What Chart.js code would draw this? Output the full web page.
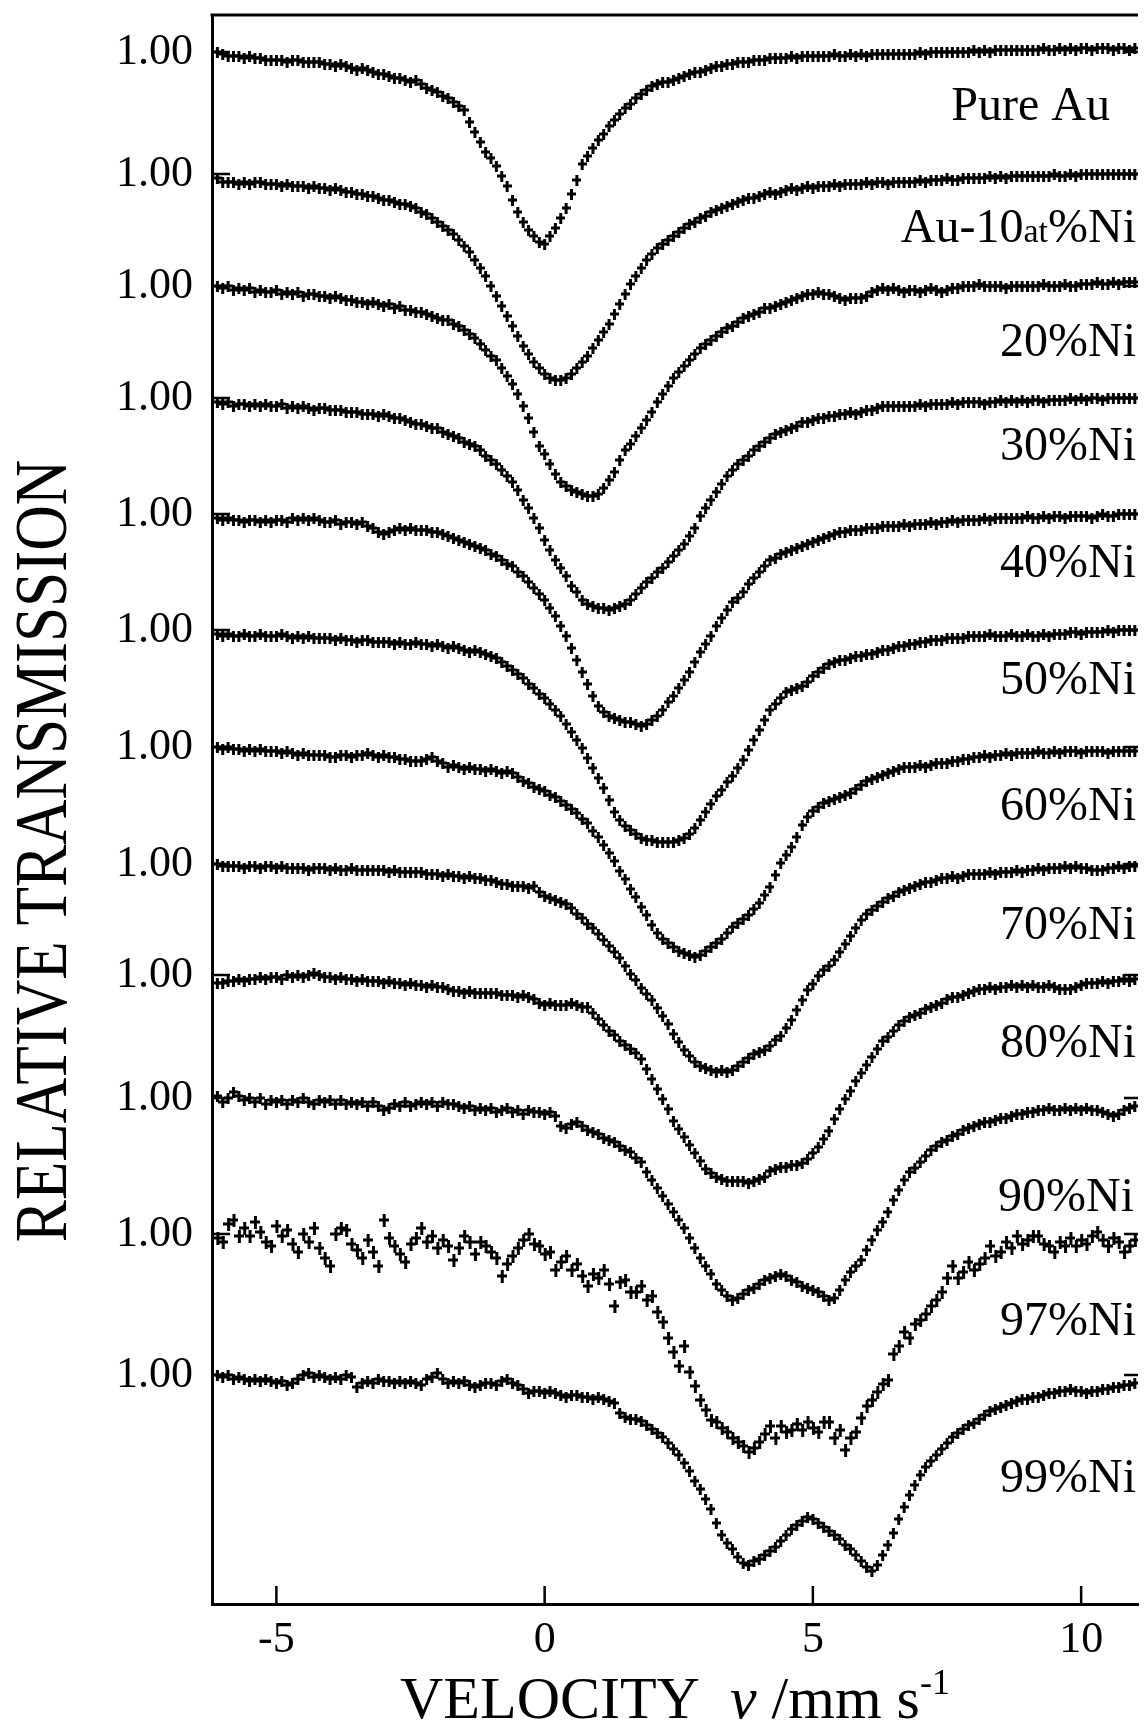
<!DOCTYPE html>
<html>
<head>
<meta charset="utf-8">
<title>Mossbauer spectra Au-Ni</title>
<script src="https://cdn.jsdelivr.net/npm/chart.js@4.4.1/dist/chart.umd.min.js"></script>
<style>
  html, body { margin: 0; padding: 0; background: #fff; }
  #wrap { width: 1144px; height: 1727px; }
</style>
</head>
<body>
<div id="wrap"><canvas id="chart" width="1144" height="1727"></canvas></div>
<script>
// velocity channels (mm/s)
const velocity = [
  -6.1,-6.0,-5.9,-5.8,-5.7,-5.6,-5.5,-5.4,-5.3,-5.2,
  -5.1,-5.0,-4.9,-4.8,-4.7,-4.6,-4.5,-4.4,-4.3,-4.2,
  -4.1,-4.0,-3.9,-3.8,-3.7,-3.6,-3.5,-3.4,-3.3,-3.2,
  -3.1,-3.0,-2.9,-2.8,-2.7,-2.6,-2.5,-2.4,-2.3,-2.2,
  -2.1,-2.0,-1.9,-1.8,-1.7,-1.6,-1.5,-1.4,-1.3,-1.2,
  -1.1,-1.0,-0.9,-0.8,-0.7,-0.6,-0.5,-0.4,-0.3,-0.2,
  -0.1,0.0,0.1,0.2,0.3,0.4,0.5,0.6,0.7,0.8,
  0.9,1.0,1.1,1.2,1.3,1.4,1.5,1.6,1.7,1.8,
  1.9,2.0,2.1,2.2,2.3,2.4,2.5,2.6,2.7,2.8,
  2.9,3.0,3.1,3.2,3.3,3.4,3.5,3.6,3.7,3.8,
  3.9,4.0,4.1,4.2,4.3,4.4,4.5,4.6,4.7,4.8,
  4.9,5.0,5.1,5.2,5.3,5.4,5.5,5.6,5.7,5.8,
  5.9,6.0,6.1,6.2,6.3,6.4,6.5,6.6,6.7,6.8,
  6.9,7.0,7.1,7.2,7.3,7.4,7.5,7.6,7.7,7.8,
  7.9,8.0,8.1,8.2,8.3,8.4,8.5,8.6,8.7,8.8,
  8.9,9.0,9.1,9.2,9.3,9.4,9.5,9.6,9.7,9.8,
  9.9,10.0,10.1,10.2,10.3,10.4,10.5,10.6,10.7,10.8,
  10.9,11.0
];

// relative transmission (%) for each sample
const pureAu = [
  100.0,99.9,99.8,99.8,99.8,99.7,99.8,99.7,99.7,99.6,
  99.6,99.6,99.6,99.5,99.6,99.6,99.5,99.5,99.5,99.5,
  99.4,99.4,99.3,99.4,99.3,99.2,99.1,99.2,99.1,99.0,
  98.9,98.9,98.8,98.7,98.7,98.6,98.5,98.6,98.4,98.2,
  98.1,98.0,97.8,97.7,97.5,97.3,97.1,96.5,96.0,95.5,
  95.0,94.7,94.3,93.8,93.3,92.6,92.0,91.5,91.1,90.8,
  90.5,90.4,90.8,91.2,91.7,92.2,92.9,93.6,94.4,94.8,
  95.2,95.6,95.9,96.3,96.6,96.9,97.2,97.4,97.7,97.9,
  98.1,98.3,98.4,98.5,98.5,98.6,98.7,98.8,98.9,99.0,
  99.0,99.1,99.2,99.3,99.3,99.4,99.4,99.5,99.5,99.5,
  99.6,99.6,99.6,99.7,99.7,99.7,99.7,99.8,99.7,99.8,
  99.8,99.8,99.8,99.8,99.8,99.9,99.8,99.8,99.9,99.8,
  99.9,99.8,99.9,99.9,99.9,99.9,99.9,99.9,99.9,99.9,
  99.9,100.0,99.9,100.0,100.0,100.0,100.0,100.0,100.0,100.0,
  100.0,100.1,100.0,100.1,100.0,100.1,100.1,100.1,100.1,100.1,
  100.1,100.1,100.1,100.1,100.2,100.1,100.1,100.2,100.1,100.2,
  100.1,100.2,100.2,100.1,100.2,100.2,100.2,100.1,100.2,100.2,
  100.1,100.2
];
const ni10 = [
  99.8,99.6,99.6,99.6,99.5,99.6,99.5,99.6,99.6,99.5,
  99.5,99.5,99.4,99.5,99.4,99.4,99.4,99.3,99.4,99.3,
  99.3,99.2,99.3,99.2,99.1,99.1,99.0,99.0,98.9,98.9,
  98.8,98.7,98.7,98.6,98.5,98.5,98.4,98.3,98.1,98.0,
  97.8,97.6,97.4,97.2,97.0,96.7,96.4,96.1,95.7,95.3,
  94.9,94.4,93.9,93.4,92.9,92.4,91.9,91.4,91.0,90.6,
  90.3,90.0,89.8,89.7,89.7,89.8,90.0,90.3,90.6,90.9,
  91.3,91.7,92.1,92.5,93.0,93.5,94.0,94.5,94.9,95.3,
  95.7,96.0,96.3,96.5,96.7,96.9,97.1,97.3,97.5,97.6,
  97.8,97.9,98.1,98.2,98.3,98.4,98.5,98.6,98.7,98.8,
  98.8,98.9,99.0,99.1,99.0,99.1,99.2,99.3,99.2,99.3,
  99.4,99.3,99.4,99.4,99.4,99.5,99.4,99.5,99.5,99.5,
  99.5,99.6,99.5,99.6,99.6,99.5,99.6,99.6,99.6,99.6,
  99.6,99.7,99.6,99.7,99.7,99.7,99.8,99.7,99.7,99.8,
  99.8,99.8,99.8,99.8,99.9,99.8,99.9,99.8,99.9,99.9,
  99.9,99.9,99.9,99.9,99.9,99.9,100.0,99.9,99.9,100.0,
  99.9,100.0,100.0,100.0,100.0,100.0,100.0,100.0,100.0,100.0,
  100.0,100.0
];
const ni20 = [
  100.0,99.9,100.0,99.8,99.9,99.8,99.9,99.7,99.8,99.7,
  99.7,99.8,99.6,99.7,99.6,99.7,99.5,99.6,99.6,99.5,
  99.5,99.4,99.5,99.4,99.3,99.3,99.2,99.2,99.1,99.2,
  99.1,99.0,99.1,98.9,99.0,98.8,98.8,98.7,98.7,98.6,
  98.5,98.4,98.3,98.3,98.1,98.0,97.8,97.6,97.4,97.1,
  96.8,96.5,96.3,95.9,95.5,95.1,94.6,94.0,93.4,92.7,
  92.0,91.6,91.1,90.6,90.2,90.0,89.8,89.7,89.6,89.5,
  89.5,89.6,89.9,90.3,90.7,91.3,91.8,92.1,92.5,92.9,
  93.3,93.7,94.2,94.6,95.0,95.4,95.7,96.0,96.3,96.6,
  96.9,97.1,97.3,97.5,97.7,97.9,98.0,98.2,98.4,98.5,
  98.6,98.7,98.9,98.9,99.0,99.1,99.2,99.3,99.4,99.5,
  99.6,99.6,99.7,99.6,99.6,99.5,99.4,99.3,99.4,99.4,
  99.4,99.5,99.7,99.8,99.9,99.8,99.9,99.8,99.7,99.8,
  99.8,99.7,99.8,99.9,99.8,99.7,99.8,99.9,99.9,100.0,
  100.0,100.0,100.1,100.0,100.0,100.0,100.0,99.9,100.0,100.0,
  100.0,100.0,100.0,100.0,100.1,100.0,100.0,100.0,100.1,100.0,
  100.0,100.1,100.1,100.1,100.2,100.1,100.1,100.2,100.1,100.2,
  100.2,100.2
];
const ni30 = [
  99.8,99.7,99.8,99.6,99.7,99.7,99.6,99.7,99.6,99.7,
  99.6,99.6,99.7,99.5,99.6,99.5,99.6,99.5,99.4,99.5,
  99.5,99.4,99.4,99.4,99.3,99.3,99.3,99.2,99.2,99.2,
  99.1,99.2,99.1,99.0,99.0,98.9,98.8,98.7,98.7,98.6,
  98.5,98.5,98.3,98.2,98.1,98.0,97.8,97.7,97.6,97.4,
  97.1,96.9,96.7,96.4,96.1,95.8,95.4,94.9,94.5,94.0,
  93.5,92.9,92.4,91.9,91.5,91.1,90.6,90.3,89.9,89.7,
  89.6,89.5,89.5,89.4,89.5,89.6,89.7,89.9,90.2,90.5,
  90.8,91.0,91.3,91.5,91.8,92.1,92.4,92.7,93.1,93.5,
  94.1,94.5,94.9,95.3,95.7,96.1,96.4,96.7,96.9,97.1,
  97.4,97.6,97.8,98.0,98.2,98.3,98.4,98.5,98.6,98.8,
  98.8,98.9,99.0,99.0,99.1,99.1,99.2,99.2,99.3,99.2,
  99.3,99.4,99.4,99.5,99.6,99.6,99.6,99.6,99.6,99.6,
  99.6,99.7,99.6,99.7,99.7,99.7,99.7,99.8,99.7,99.8,
  99.8,99.8,99.8,99.7,99.8,99.8,99.9,99.8,99.9,99.8,
  99.9,99.8,99.9,99.9,99.8,99.9,99.9,99.9,99.9,100.0,
  99.9,100.0,99.9,100.0,100.0,99.9,100.0,100.0,100.0,100.0,
  100.0,100.0
];
const ni40 = [
  99.8,99.7,99.8,99.7,99.7,99.6,99.7,99.7,99.6,99.7,
  99.6,99.7,99.7,99.6,99.8,99.7,99.8,99.7,99.8,99.7,
  99.6,99.6,99.7,99.5,99.6,99.6,99.5,99.6,99.4,99.3,
  99.1,99.0,99.1,99.2,99.3,99.2,99.3,99.2,99.2,99.2,
  99.1,99.1,99.0,98.9,98.8,98.7,98.6,98.5,98.4,98.3,
  98.2,98.0,97.9,97.7,97.5,97.4,97.1,96.9,96.6,96.3,
  96.0,95.7,95.3,94.9,94.4,93.9,93.3,92.7,92.1,91.5,
  90.9,90.4,90.1,89.9,89.8,89.7,89.6,89.6,89.5,89.4,
  89.5,89.7,89.9,90.2,90.6,90.9,91.3,91.7,92.1,92.6,
  93.1,93.5,93.9,94.4,94.8,95.2,95.6,95.8,96.1,96.5,
  96.8,97.1,97.4,97.7,97.8,98.0,98.1,98.2,98.3,98.4,
  98.5,98.6,98.7,98.8,98.9,99.0,99.1,99.1,99.2,99.2,
  99.2,99.3,99.3,99.3,99.4,99.4,99.4,99.4,99.5,99.4,
  99.5,99.5,99.5,99.6,99.5,99.6,99.6,99.7,99.6,99.7,
  99.7,99.7,99.7,99.8,99.7,99.8,99.8,99.8,99.8,99.8,
  99.8,99.9,99.8,99.8,99.9,99.8,99.9,99.9,99.8,99.9,
  99.9,99.9,99.9,99.8,99.9,100.0,99.9,99.9,100.0,100.0,
  100.0,100.0
];
const ni50 = [
  99.8,99.7,99.8,99.7,99.7,99.8,99.7,99.7,99.8,99.7,
  99.7,99.7,99.8,99.7,99.6,99.7,99.6,99.7,99.6,99.6,
  99.6,99.6,99.5,99.6,99.5,99.5,99.4,99.5,99.5,99.4,
  99.4,99.4,99.4,99.3,99.4,99.3,99.3,99.4,99.3,99.3,
  99.2,99.3,99.2,99.1,99.2,99.1,99.0,98.9,99.0,98.9,
  98.8,98.7,98.6,98.4,98.2,98.0,97.8,97.6,97.3,97.1,
  96.8,96.6,96.3,96.0,95.7,95.3,94.9,94.5,94.1,93.6,
  93.1,92.6,92.1,91.5,90.9,90.5,90.2,90.0,89.8,89.6,
  89.5,89.5,89.4,89.4,89.4,89.4,89.5,89.6,89.8,90.1,
  90.5,90.9,91.3,91.7,92.0,92.4,92.7,93.1,93.5,94.0,
  94.5,95.0,95.5,96.0,96.3,96.6,96.9,97.0,97.1,97.2,
  97.4,97.7,97.9,98.1,98.3,98.4,98.5,98.5,98.6,98.7,
  98.7,98.8,98.8,98.9,99.0,99.0,99.1,99.2,99.2,99.3,
  99.3,99.4,99.4,99.5,99.5,99.5,99.6,99.6,99.6,99.6,
  99.7,99.7,99.7,99.7,99.8,99.7,99.7,99.7,99.8,99.7,
  99.7,99.8,99.7,99.7,99.8,99.7,99.8,99.8,99.8,99.9,
  99.9,99.8,99.9,99.9,99.9,99.9,100.0,99.9,100.0,100.0,
  100.0,100.0
];
const ni60 = [
  100.0,99.9,100.0,99.9,99.9,99.8,99.9,99.8,99.9,99.8,
  99.8,99.8,99.7,99.8,99.7,99.6,99.7,99.6,99.6,99.6,
  99.6,99.5,99.5,99.6,99.6,99.5,99.6,99.6,99.7,99.6,
  99.5,99.6,99.5,99.5,99.4,99.4,99.3,99.3,99.3,99.4,
  99.5,99.3,99.2,99.0,99.1,99.0,98.9,99.0,98.9,98.9,
  98.8,98.9,98.8,98.7,98.8,98.7,98.5,98.3,98.2,98.0,
  97.9,97.8,97.6,97.5,97.3,97.1,96.9,96.7,96.4,96.2,
  95.8,95.5,95.1,94.7,94.3,93.8,93.4,92.9,92.5,92.0,
  91.6,91.1,90.7,90.4,90.2,90.0,89.8,89.7,89.6,89.5,
  89.6,89.8,90.0,90.2,90.4,90.7,91.0,91.2,91.4,91.6,
  91.9,92.2,92.6,93.0,93.6,94.2,94.6,95.0,95.5,96.1,
  96.5,96.8,97.0,97.2,97.3,97.4,97.5,97.6,97.7,97.9,
  98.1,98.3,98.4,98.5,98.6,98.7,98.8,98.9,99.0,99.0,
  99.0,99.1,99.0,99.1,99.2,99.2,99.2,99.3,99.3,99.4,
  99.4,99.5,99.5,99.6,99.5,99.6,99.6,99.7,99.6,99.7,
  99.7,99.7,99.7,99.8,99.7,99.7,99.8,99.7,99.8,99.8,
  99.8,99.7,99.8,99.8,99.8,99.8,99.7,99.8,99.8,99.8,
  99.8,99.8
];
const ni70 = [
  100.0,99.9,99.9,99.9,99.9,99.8,99.9,99.9,99.8,99.9,
  99.9,99.8,99.9,99.8,99.8,99.8,99.8,99.7,99.8,99.8,
  99.8,99.7,99.8,99.7,99.7,99.8,99.7,99.7,99.7,99.7,
  99.7,99.7,99.6,99.7,99.6,99.6,99.6,99.6,99.6,99.5,
  99.5,99.5,99.4,99.5,99.4,99.4,99.3,99.4,99.3,99.3,
  99.2,99.2,99.1,99.0,99.0,98.9,98.9,98.9,98.8,98.9,
  98.6,98.4,98.3,98.2,98.1,98.0,97.8,97.5,97.3,97.0,
  96.8,96.5,96.2,95.9,95.6,95.3,94.9,94.5,94.2,93.8,
  93.5,93.2,92.8,92.4,92.0,91.5,91.1,90.7,90.4,90.1,
  89.9,89.8,89.7,89.6,89.7,89.6,89.7,89.9,90.1,90.3,
  90.5,90.6,90.7,90.9,91.2,91.4,91.8,92.2,92.7,93.2,
  93.7,94.0,94.4,94.7,94.9,95.2,95.6,96.0,96.4,96.8,
  97.2,97.5,97.7,97.9,98.1,98.3,98.4,98.6,98.7,98.8,
  98.9,99.0,99.1,99.1,99.2,99.3,99.3,99.4,99.3,99.4,
  99.5,99.5,99.5,99.5,99.6,99.5,99.6,99.6,99.6,99.7,
  99.6,99.7,99.7,99.8,99.7,99.8,99.8,99.8,99.9,99.8,
  99.9,99.8,99.8,99.7,99.7,99.7,99.8,99.8,99.9,99.8,
  99.9,99.9
];
const ni80 = [
  99.6,99.6,99.7,99.7,99.8,99.7,99.8,99.8,99.9,99.8,
  99.9,99.9,99.8,100.0,99.9,100.0,99.9,100.0,100.1,100.0,
  99.9,99.9,99.8,99.9,99.8,99.8,99.7,99.8,99.7,99.7,
  99.7,99.6,99.7,99.6,99.6,99.5,99.6,99.5,99.5,99.4,
  99.5,99.4,99.4,99.3,99.2,99.2,99.1,99.2,99.1,99.1,
  99.1,99.1,99.1,99.0,99.0,99.0,98.9,99.0,98.9,98.8,
  98.6,98.5,98.6,98.5,98.5,98.5,98.6,98.5,98.4,98.4,
  98.1,97.8,97.5,97.2,97.0,96.7,96.5,96.3,96.1,95.8,
  95.3,94.8,94.3,93.8,93.3,92.7,92.3,91.9,91.5,91.1,
  90.7,90.3,90.1,89.9,89.8,89.7,89.7,89.7,89.7,89.6,
  89.7,89.8,89.9,90.2,90.3,90.4,90.4,90.5,90.5,90.6,
  90.8,91.1,91.4,91.8,92.2,92.8,93.3,93.8,94.2,94.7,
  95.1,95.5,95.9,96.3,96.7,96.9,97.2,97.5,97.7,97.9,
  98.0,98.1,98.3,98.4,98.5,98.6,98.8,98.9,98.9,99.0,
  99.1,99.2,99.3,99.3,99.4,99.3,99.4,99.4,99.5,99.4,
  99.5,99.4,99.5,99.4,99.4,99.5,99.4,99.3,99.3,99.3,
  99.4,99.5,99.6,99.6,99.6,99.7,99.6,99.7,99.7,99.8,
  99.7,99.8
];
const ni90 = [
  100.1,99.8,100.0,100.3,100.1,99.9,100.0,99.8,100.0,99.7,
  99.9,99.8,99.9,99.7,99.9,99.8,100.0,99.8,99.7,99.9,
  99.8,99.9,99.7,99.9,99.7,99.8,99.7,99.8,99.6,99.8,
  99.6,99.4,99.5,99.7,99.6,99.8,99.6,99.7,99.8,99.7,
  99.8,99.6,99.8,99.7,99.7,99.6,99.5,99.6,99.4,99.5,
  99.4,99.5,99.3,99.4,99.5,99.3,99.4,99.2,99.4,99.3,
  99.3,99.2,99.3,99.1,98.6,98.5,98.7,98.8,98.6,98.4,
  98.3,98.2,98.0,97.9,97.8,97.6,97.4,97.3,97.0,96.8,
  96.3,95.9,95.5,95.1,94.7,94.3,93.9,93.5,93.0,92.5,
  92.0,91.6,91.2,90.7,90.4,90.1,89.9,90.0,90.2,90.4,
  90.5,90.7,90.9,91.0,91.1,91.2,91.1,90.9,90.8,90.6,
  90.5,90.4,90.3,90.1,89.9,90.0,90.4,90.9,91.3,91.6,
  91.9,92.4,92.9,93.4,93.8,94.3,94.9,95.4,95.9,96.3,
  96.5,96.8,97.1,97.4,97.6,97.8,97.9,98.1,98.2,98.4,
  98.5,98.6,98.7,98.8,98.8,98.9,99.0,99.0,99.1,99.2,
  99.2,99.3,99.3,99.4,99.4,99.5,99.4,99.4,99.5,99.4,
  99.5,99.4,99.5,99.4,99.4,99.3,99.2,99.1,99.2,99.4,
  99.5,99.6
];
const ni97 = [
  99.8,99.6,100.5,100.7,99.9,100.3,99.9,100.6,100.1,99.6,
  99.4,100.4,99.9,100.2,99.5,99.1,100.0,99.6,100.3,99.3,
  98.8,98.4,100.0,100.3,100.2,99.5,99.2,98.8,99.7,99.1,
  98.4,100.7,99.8,99.4,99.0,98.6,99.5,99.8,100.3,99.6,
  99.9,99.3,99.7,99.4,98.7,99.3,99.9,99.6,99.0,99.6,
  99.4,99.1,98.8,97.9,98.5,98.9,99.3,99.7,100.0,99.5,
  99.4,99.0,99.1,98.2,98.6,98.9,98.2,98.5,97.9,97.4,
  98.0,97.8,98.2,97.5,96.4,97.6,97.7,97.1,97.1,97.4,
  96.7,96.9,96.1,95.6,94.8,94.1,93.4,94.4,93.1,92.4,
  91.7,91.2,90.7,90.6,90.3,90.1,89.8,89.6,89.4,89.1,
  89.3,89.6,90.0,90.4,89.8,90.4,90.1,90.2,90.5,90.2,
  90.6,90.3,90.1,90.6,90.6,89.8,90.2,89.2,89.8,90.1,
  90.8,91.4,91.7,92.1,92.5,92.7,94.0,94.4,95.1,94.8,
  95.5,95.7,96.0,96.4,96.7,97.1,97.8,98.4,97.8,98.1,
  98.6,98.2,98.5,98.8,99.4,98.9,99.1,99.6,99.3,99.9,
  99.5,99.7,99.9,99.9,99.5,99.4,99.1,99.6,99.4,99.8,
  99.4,99.7,99.5,99.9,100.1,99.7,99.4,99.8,99.6,99.1,
  99.4,99.7
];
const ni99 = [
  100.0,99.9,100.0,99.8,99.9,99.8,99.7,99.8,99.7,99.8,
  99.7,99.6,99.7,99.5,99.6,99.8,100.0,100.1,99.9,100.0,
  99.9,99.8,99.9,99.8,100.0,99.9,99.4,99.6,99.7,99.6,
  99.8,99.7,99.7,99.6,99.7,99.6,99.7,99.6,99.5,99.8,
  99.9,100.1,99.8,99.6,99.7,99.6,99.7,99.5,99.4,99.5,
  99.6,99.6,99.5,99.7,99.8,99.6,99.5,99.3,99.1,99.2,
  99.2,99.1,99.2,99.1,99.0,98.9,99.0,99.0,98.9,98.9,
  98.8,98.9,98.8,98.7,98.6,98.1,97.9,97.8,97.8,97.7,
  97.5,97.3,97.1,96.9,96.6,96.3,96.0,95.6,95.2,94.7,
  94.3,93.8,93.3,92.6,92.0,91.6,91.3,90.9,90.6,90.5,
  90.7,90.8,91.0,91.2,91.4,91.7,92.0,92.3,92.5,92.7,
  92.9,92.8,92.6,92.4,92.2,92.0,91.8,91.5,91.3,91.0,
  90.7,90.4,90.2,90.5,91.0,91.5,92.1,92.8,93.4,94.0,
  94.5,95.0,95.4,95.7,96.0,96.3,96.6,96.9,97.1,97.3,
  97.5,97.6,97.8,98.0,98.2,98.3,98.4,98.5,98.6,98.7,
  98.8,98.8,98.9,98.9,99.0,99.1,99.1,99.2,99.2,99.3,
  99.2,99.2,99.1,99.2,99.2,99.3,99.3,99.4,99.4,99.5,
  99.5,99.6
];

const spectra = [pureAu, ni10, ni20, ni30, ni40, ni50, ni60, ni70, ni80, ni90, ni97, ni99];
const sampleNames = ["Pure Au", "Au-10at%Ni", "20%Ni", "30%Ni", "40%Ni", "50%Ni",
                     "60%Ni", "70%Ni", "80%Ni", "90%Ni", "97%Ni", "99%Ni"];
// where each spectrum's 1.00 sits on the stacked axis (1 unit = 1 %)
const baselines = [77.6, 71.5, 65.9, 60.3, 54.5, 48.7, 42.85, 37.0, 31.45, 25.3, 18.5, 11.45];
const velocityTicks = [-5, 0, 5, 10];

// label placement: pixels below the 1.00 line, right edge
const labelDrop = [68, 68, 70, 62, 63, 64, 73, 75, 82, 113, 101, 117];
const labelRight = [1110, 1136, 1136, 1136, 1136, 1136, 1136, 1136, 1136, 1134, 1136, 1136];

const SERIF = "'Liberation Serif', 'Times New Roman', serif";

function makeCross(w, h, lw) {
  const c = document.createElement("canvas");
  c.width = w;
  c.height = h;
  const g = c.getContext("2d");
  g.fillStyle = "#000";
  g.fillRect(0, Math.round((h - lw) / 2), w, lw);
  g.fillRect(Math.round((w - lw) / 2), 0, lw, h);
  return c;
}
const cross = makeCross(9, 11, 3);
const bigCross = makeCross(10, 13, 3);

const decorations = {
  id: "decorations",
  afterDraw(chart) {
    const { ctx, chartArea: a, scales: { x, y } } = chart;
    ctx.save();
    ctx.strokeStyle = "#000";
    ctx.fillStyle = "#000";

    // top frame line
    ctx.lineWidth = 3;
    ctx.beginPath();
    ctx.moveTo(a.left - 1.5, a.top);
    ctx.lineTo(a.right, a.top);
    ctx.stroke();

    // inward tick marks
    ctx.lineWidth = 2.5;
    baselines.forEach(b => {
      const py = y.getPixelForValue(b);
      ctx.beginPath();
      ctx.moveTo(a.left, py);
      ctx.lineTo(a.left + 18, py);
      ctx.moveTo(a.right, py);
      ctx.lineTo(a.right - 14, py);
      ctx.stroke();
    });
    velocityTicks.forEach(v => {
      const px = x.getPixelForValue(v);
      ctx.beginPath();
      ctx.moveTo(px, a.bottom);
      ctx.lineTo(px, a.bottom - 18);
      ctx.stroke();
    });

    // sample labels
    ctx.textBaseline = "alphabetic";
    sampleNames.forEach((name, k) => {
      const py = y.getPixelForValue(baselines[k]) + labelDrop[k];
      if (name === "Au-10at%Ni") {
        const parts = [["Au-10", 48], ["at", 34], ["%Ni", 48]];
        const widths = parts.map(([t, s]) => { ctx.font = s + "px " + SERIF; return ctx.measureText(t).width; });
        let cx = labelRight[k] - widths.reduce((p, q) => p + q, 0);
        ctx.textAlign = "left";
        parts.forEach(([t, s], i) => {
          ctx.font = s + "px " + SERIF;
          ctx.fillText(t, cx, py);
          cx += widths[i];
        });
      } else {
        ctx.font = "48px " + SERIF;
        ctx.textAlign = "right";
        ctx.fillText(name, labelRight[k], py);
      }
    });

    // x axis title: VELOCITY  v /mm s-1
    const tparts = [
      ["VELOCITY  ", "60px " + SERIF, 0],
      ["v", "italic 60px " + SERIF, 0],
      [" /mm s", "60px " + SERIF, 0],
      ["-1", "36px " + SERIF, -24]
    ];
    let tx = 400;
    ctx.textAlign = "left";
    tparts.forEach(([t, f, dy]) => {
      ctx.font = f;
      ctx.fillText(t, tx, 1718 + dy);
      tx += ctx.measureText(t).width;
    });

    // y axis title
    ctx.save();
    ctx.translate(66, 851);
    ctx.rotate(-Math.PI / 2);
    ctx.scale(1, 1.18);
    ctx.font = "63px " + SERIF;
    ctx.textAlign = "center";
    ctx.fillText("RELATIVE TRANSMISSION", 0, 0);
    ctx.restore();

    ctx.restore();
  }
};

const chart = new Chart(document.getElementById("chart").getContext("2d"), {
  type: "scatter",
  data: {
    datasets: spectra.map((s, k) => ({
      label: sampleNames[k],
      data: velocity.map((v, i) => ({ x: v, y: baselines[k] + s[i] - 100 })),
      showLine: false,
      pointStyle: k === 10 ? bigCross : cross,
      pointRadius: 5,
      pointHoverRadius: 5
    }))
  },
  options: {
    responsive: false,
    animation: false,
    events: [],
    layout: { padding: { top: 15, right: 0, bottom: 0, left: 0 } },
    plugins: {
      legend: { display: false },
      tooltip: { enabled: false }
    },
    scales: {
      x: {
        type: "linear",
        min: -6.2,
        max: 11.06,
        afterBuildTicks: s => { s.ticks = velocityTicks.map(v => ({ value: v })); },
        afterFit: s => { s.height = 123; s.paddingLeft = 0; s.paddingRight = 0; },
        grid: { display: false, drawTicks: false },
        border: { display: true, color: "#000", width: 3 },
        ticks: {
          color: "#000",
          font: { family: SERIF, size: 44 },
          padding: 10,
          maxRotation: 0,
          autoSkip: false
        }
      },
      y: {
        type: "linear",
        min: 0,
        max: 79.45,
        afterBuildTicks: s => { s.ticks = baselines.map(v => ({ value: v })); },
        afterFit: s => { s.width = 212; s.paddingTop = 0; s.paddingBottom = 0; },
        grid: { display: false, drawTicks: false },
        border: { display: true, color: "#000", width: 3 },
        ticks: {
          color: "#000",
          font: { family: SERIF, size: 44 },
          padding: 19,
          autoSkip: false,
          callback: () => "1.00"
        }
      }
    }
  },
  plugins: [decorations]
});
</script>
</body>
</html>
